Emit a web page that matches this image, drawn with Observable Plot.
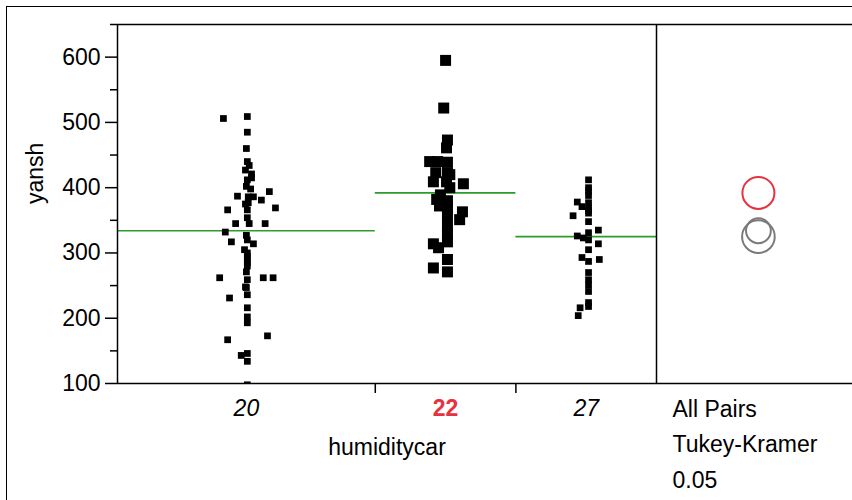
<!DOCTYPE html>
<html><head><meta charset="utf-8">
<script src="https://cdn.jsdelivr.net/npm/d3@7"></script>
<script src="https://cdn.jsdelivr.net/npm/@observablehq/plot@0.6"></script>
<style>
body{margin:0;background:#fff;font-family:"Liberation Sans",Arial,sans-serif;}
#wrap{position:relative;width:852px;height:500px;overflow:hidden;}
#outer{position:absolute;left:6px;top:6px;width:900px;height:600px;border-left:1.5px solid #000;border-top:1.5px solid #000;}
#chart{position:absolute;left:0;top:0;}
</style></head><body>
<div id="wrap"><div id="outer"></div><div id="chart"></div></div>
<script>
// categories
const groups = ["20", "22", "27"];
// yansh values per humiditycar group, with horizontal jitter (in x-scale units) as read
const yansh20 = [506,509,485,460,440,434,427,421,415,412,402,398,394,387,386,386,381,377,375,369,366,366,354,345,345,345,332,327,320,317,314,305,300,295,290,285,280,271,262,262,262,259,248,247,236,231,216,202,193,173,167,146,143,134,98];
const jitter20 = [-4.9,0.2,0.2,0,0.2,0.6,-0.2,1.1,1.1,0.2,0,0.9,4.9,-1.9,0.4,1.5,3.2,0.4,-0.2,6.2,-4,0.2,0.2,-2.3,0.6,4,-4.5,0,0.2,-3.2,1.5,-0.4,0.2,0.2,0.2,0.2,0.2,0,-5.7,3.6,5.7,0.2,-0.2,0,0.2,-3.6,0.2,0.2,0.2,4.5,-4,0.2,-1.1,0.2,0.2];
const yansh22 = [595,522,473,461,440,440,439,423,423,420,409,409,406,400,389,382,380,372,369,363,355,351,340,328,317,314,308,290,277,271];
const jitter22 = [0,-0.4,0.4,0.2,-3.4,-1.7,0.4,-2.1,0.4,0.9,-2.6,0.2,3.8,0.9,-1.1,-1.9,0.4,-1.3,0.4,3.6,0.4,3,0.4,0.4,0.4,-2.6,-1.5,0.4,-2.6,0.4];
const yansh27 = [412,400,395,388,378,377,371,369,365,361,357,348,335,331,326,323,320,314,305,293,290,287,270,259,251,241,224,218,216,204];
const jitter27 = [0.5,0.5,0.5,0.5,-1.9,0.5,-0.9,0.5,0.5,0.5,-2.8,0.5,2.6,0.5,-1.9,-0.6,0.5,2.6,0.5,-0.9,2.8,0.5,0.5,0.5,0.5,0.5,0.5,0.5,-1.3,-1.7];
// group means (green lines) and comparison circle radii (in yansh units)
const groupMeans = [334, 392, 325];
const circleRadius = [19, 24.5, 25];
const selectedGroup = "22";
// tick values
const yTicks = [100, 200, 300, 400, 500, 600];
const yMinorTicks = [150, 250, 350, 450, 550, 650];
const testLines = ["All Pairs", "Tukey-Kramer", "0.05"];

const values = [yansh20, yansh22, yansh27];
const jitters = [jitter20, jitter22, jitter27];
const counts = values.map(v => v.length);
const starts = counts.map((c, i) => d3.sum(counts.slice(0, i)));
const N = d3.sum(counts);

const W = 852, H = 500, mL = 117, mR = 0, mT = 24, mB = 117, panelRight = 656;
const xMax = N * (W - mL) / (panelRight - mL);
const yDomain = [100, 650];
const yPx = (H - mT - mB) / (yDomain[1] - yDomain[0]);

const points = groups.flatMap((g, i) => values[i].map((v, j) => ({
  group: g, x: starts[i] + counts[i] / 2 + jitters[i][j], y: v,
  r: g === selectedGroup ? 6.2 : 3.8
})));
const means = groups.map((g, i) => ({group: g, x1: starts[i], x2: starts[i] + counts[i], y: groupMeans[i]}));
const centers = groups.map((g, i) => ({group: g, x: starts[i] + counts[i] / 2}));
const circleX = N + (xMax - N) * 0.52;
const circles = groups.map((g, i) => ({
  group: g, x: circleX, y: groupMeans[i], r: circleRadius[i] * yPx,
  stroke: g === selectedGroup ? "#e8313f" : "#7a7a7a"
}));
circles.sort((a, b) => (a.group === selectedGroup) - (b.group === selectedGroup));

const FS = 23;
const chart = Plot.plot({
  width: W, height: H,
  marginLeft: mL, marginRight: mR, marginTop: mT, marginBottom: mB,
  style: {fontFamily: '"Liberation Sans", Arial, sans-serif', background: "transparent", overflow: "visible"},
  x: {domain: [0, xMax], axis: null},
  y: {domain: yDomain, axis: null},
  r: {type: "identity"},
  color: {type: "identity"},
  marks: [
    Plot.axisY(yTicks, {tickSize: 12, tickPadding: 5, fontSize: FS, label: null, stroke: "#000", strokeWidth: 1.5, color: "#000"}),
    Plot.axisY(yMinorTicks, {tickSize: 7, tickFormat: () => "", label: null, stroke: "#000", strokeWidth: 1.5}),
    Plot.axisX([starts[1], starts[2]], {tickSize: 10, tickFormat: () => "", label: null, stroke: "#000", strokeWidth: 1.5}),
    Plot.text(["yansh"], {frameAnchor: "left", rotate: -90, dx: -82, fontSize: FS, fill: "#000"}),
    Plot.ruleY(means, {x1: "x1", x2: "x2", y: "y", stroke: "#2a9d2a", strokeWidth: 1.6}),
    Plot.dot(points, {x: "x", y: "y", r: "r", symbol: "square", fill: "#000", stroke: "none", clip: true}),
    Plot.dot(circles, {x: "x", y: "y", r: "r", stroke: "stroke", fill: "none", strokeWidth: 2}),
    Plot.ruleX([0, N], {stroke: "#000", strokeWidth: 1.5}),
    Plot.ruleY([yDomain[0], yDomain[1]], {stroke: "#000", strokeWidth: 1.5}),
    Plot.text(centers.filter(d => d.group !== selectedGroup), {x: "x", y: () => yDomain[0], text: "group", dy: 25, fontSize: FS, fontStyle: "italic", fill: "#000"}),
    Plot.text(centers.filter(d => d.group === selectedGroup), {x: "x", y: () => yDomain[0], text: "group", dy: 25, fontSize: FS, fontWeight: "bold", fill: "#e8313f"}),
    Plot.text(["humiditycar"], {x: () => N / 2, y: () => yDomain[0], dy: 64, fontSize: FS, fill: "#000"}),
    ...testLines.map((t, i) => Plot.text([t], {x: () => N, y: () => yDomain[0], dx: 16, dy: 26 + i * 35.5, textAnchor: "start", fontSize: FS, fill: "#000"}))
  ]
});
document.getElementById("chart").append(chart);
</script>
</body></html>
